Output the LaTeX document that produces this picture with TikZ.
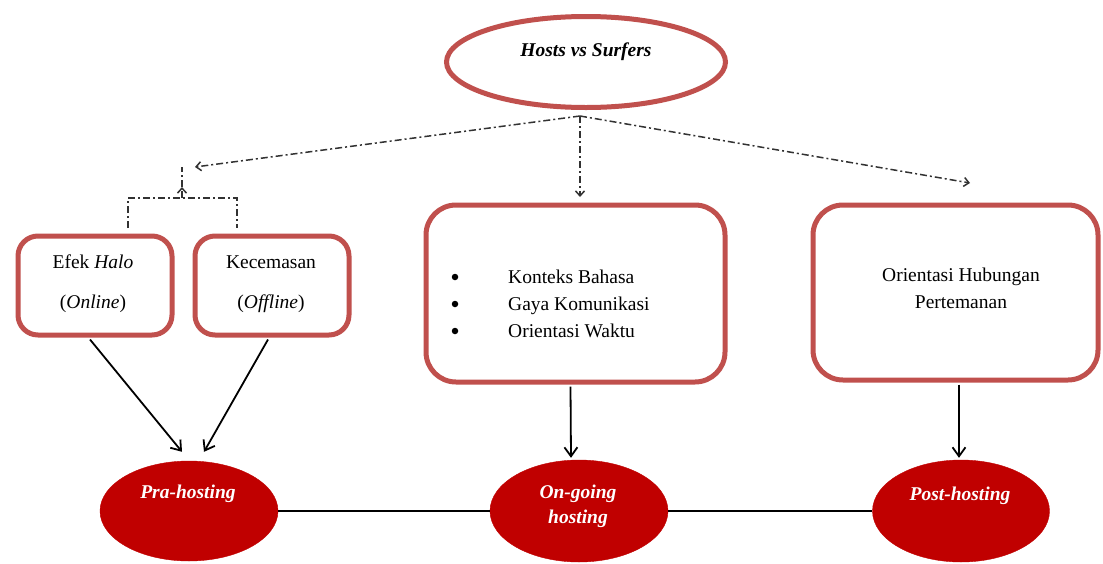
\documentclass[tikz,border=0pt]{standalone}
\usepackage{fontspec}
\setmainfont{Liberation Serif}
\usetikzlibrary{arrows.meta,shapes.geometric,calc}
\definecolor{boxred}{RGB}{192,80,77}
\definecolor{fillred}{RGB}{192,0,0}
\definecolor{ddgray}{RGB}{50,50,50}
\tikzset{
  fs/.style={font=\fontsize{19.5}{23}\selectfont},
  rbox/.style={draw=boxred, line width=5pt, rectangle, rounded corners=#1, inner sep=0pt},
  redell/.style={ellipse, fill=fillred, draw=fillred, inner sep=0pt},
  txt/.style={fs, inner sep=0pt, anchor=base},
  wtxt/.style={fs, inner sep=0pt, anchor=base, text=white, font=\fontsize{19.5}{23}\selectfont\bfseries\itshape},
  bul/.style={circle, fill=black, inner sep=0pt, minimum size=6.5pt},
  dd/.style={ddgray, line width=1.5pt, dash pattern=on 7pt off 3pt on 2pt off 3pt},
  ddarr/.style={dd, -{Straight Barb[length=5pt,width=9pt]}},
  arr/.style={black, line width=1.8pt, -{Straight Barb[length=9pt,width=13pt]}},
  conn/.style={black, line width=1.8pt},
}
\begin{document}
\begin{tikzpicture}[x=1pt,y=-1pt]
\useasboundingbox (0,0) rectangle (1103,563);
% top ellipse
\node[ellipse, draw=boxred, line width=5pt, minimum width=279pt, minimum height=91pt, inner sep=0pt] (top) at (586,62) {};
\node[txt, font=\fontsize{19.5}{23}\selectfont\bfseries\itshape] (toptxt) at (586,56) {Hosts vs Surfers};

% boxes
\node[rbox=20pt, minimum width=154pt, minimum height=99pt] (efek) at (95,285.5) {};
\node[rbox=20pt, minimum width=154pt, minimum height=99pt] (kec) at (272,285.5) {};
\node[rbox=30pt, minimum width=299pt, minimum height=177pt] (mid) at (575.5,293.5) {};
\node[rbox=30pt, minimum width=285pt, minimum height=175pt] (right) at (955.5,292.5) {};

% box texts
\node[txt] (efek1) at (93,268) {Efek \textit{Halo}};
\node[txt] (efek2) at (93,308) {(\textit{Online})};
\node[txt] (kec1) at (271,268) {Kecemasan};
\node[txt] (kec2) at (271,308) {(\textit{Offline})};
\node[bul] (b1) at (455,277) {};
\node[bul] (b2) at (455,304) {};
\node[bul] (b3) at (455,331) {};
\node[txt, anchor=base west] (m1) at (508,283) {Konteks Bahasa};
\node[txt, anchor=base west] (m2) at (508,310) {Gaya Komunikasi};
\node[txt, anchor=base west] (m3) at (508,337) {Orientasi Waktu};
\node[txt] (r1) at (961,281) {Orientasi Hubungan};
\node[txt] (r2) at (961,308) {Pertemanan};

% bottom ellipses
\node[redell, minimum width=178pt, minimum height=100pt] (pra) at (189,511) {};
\node[redell, minimum width=178pt, minimum height=102pt] (ong) at (579,511) {};
\node[redell, minimum width=177pt, minimum height=102pt] (post) at (961,511) {};
\node[wtxt] (pratxt) at (188,498) {Pra-hosting};
\node[wtxt] (ongtxt1) at (578,498) {On-going};
\node[wtxt] (ongtxt2) at (578,523) {hosting};
\node[wtxt] (posttxt) at (960,500) {Post-hosting};

% connectors between bottom ellipses
\draw[conn] (pra.east) -- (ong.west);
\draw[conn] (ong.east) -- (post.west);

% solid arrows
\draw[arr] ($(efek.south)+(-5,2)$) -- ($(pra.north)+(-7,-9)$);
\draw[arr] ($(kec.south)+(-4,2)$) -- ($(pra.north)+(15,-9)$);
\draw[arr] ($(mid.south)+(-5,2)$) -- ($(ong.north)+(-8,-2)$);
\draw[arr] ($(right.south)+(3.5,2)$) -- ($(post.north)+(-2,-2)$);

% dash-dot connectors
\coordinate (split) at (580,116);
\coordinate (lefttip) at (195,167);
\coordinate (brtop) at (182,167);
\coordinate (brmid) at (182,198);
\coordinate (brtip) at (182,187);
\coordinate (brl) at (128,198);
\coordinate (brr) at (237,198);
\coordinate (brlb) at (128,228);
\coordinate (brrb) at (237,228);
\coordinate (midtip) at (580,197);
\coordinate (righttip) at (970,183);
\draw[ddarr] (split) -- (lefttip);
\draw[ddarr] (split) -- (midtip);
\draw[ddarr] (split) -- (righttip);
\draw[dd] (brlb) -- (brl) -- (brr) -- (brrb);
\draw[ddarr] (brmid) -- (brtip);
\draw[dd] (brtip) -- (brtop);
\end{tikzpicture}
\end{document}
